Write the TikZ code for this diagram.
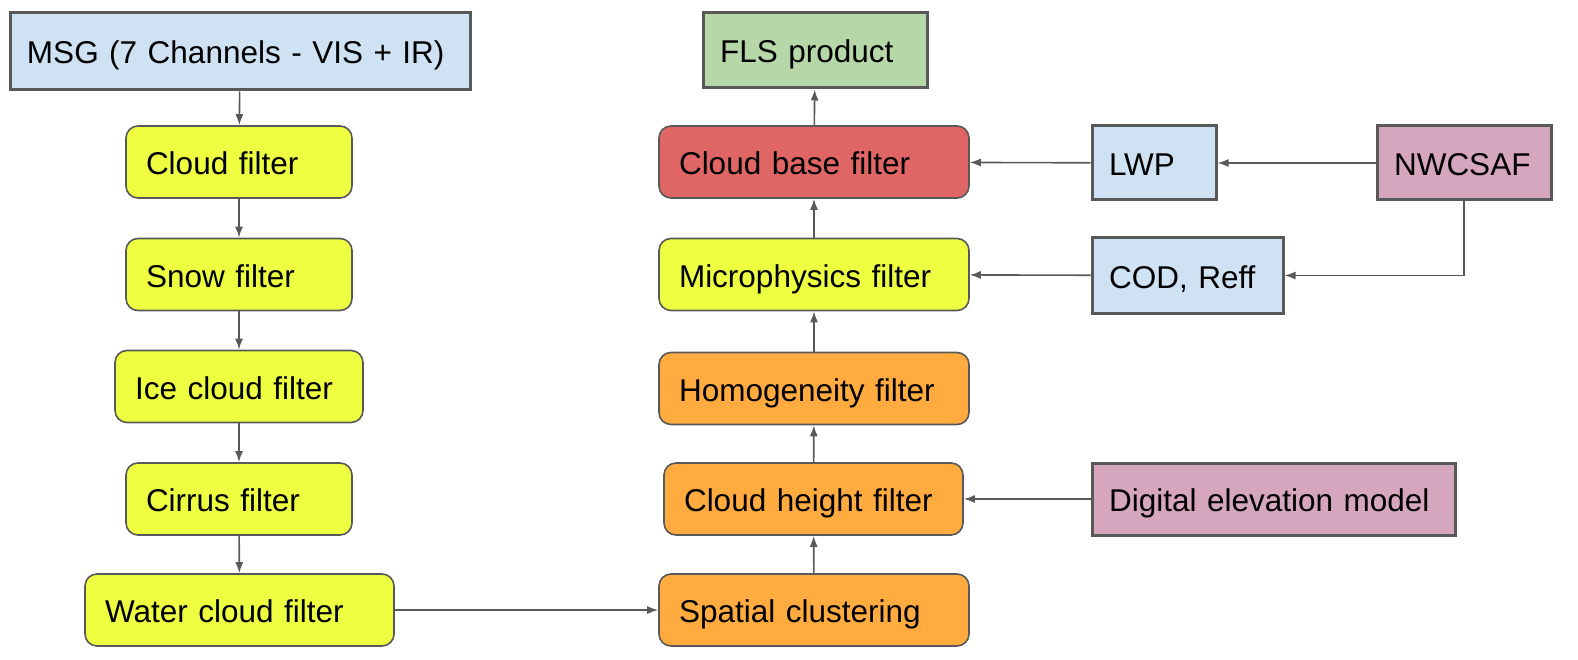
\documentclass[tikz,border=0pt]{standalone}
\usepackage{fontspec}
\setmainfont{Liberation Sans}
\usepackage{tikz}
\usepackage{xcolor}
\usetikzlibrary{arrows.meta}

\definecolor{inblue}{HTML}{CFE2F3}
\definecolor{filtyellow}{HTML}{EEFF41}
\definecolor{filtorange}{HTML}{FFAB40}
\definecolor{filtred}{HTML}{E06666}
\definecolor{prodgreen}{HTML}{B6D7A8}
\definecolor{srcpink}{HTML}{D5A6BD}
\definecolor{edgegray}{HTML}{595959}

\begin{document}
\begin{tikzpicture}[x=1pt, y=-1pt,
  font=\fontsize{31.5}{36}\selectfont,
  databox/.style={draw=edgegray, line width=3pt, rectangle, inner xsep=17pt, text height=25pt, text depth=0pt, align=left},
  filtbox/.style={draw=edgegray, line width=1.6pt, rectangle, rounded corners=12pt, inner xsep=20pt, text height=25pt, text depth=0pt, minimum height=72pt, align=left},
  flow/.style={draw=edgegray, line width=1.6pt, -{Latex[length=11pt,width=8pt]}}]
\useasboundingbox (0,0) rectangle (1578,660);

\node[databox, fill=inblue, text width=426pt, minimum height=77pt] (msg) at (240,51.5) {MSG (7 Channels - VIS + IR)};
\node[filtbox, fill=filtyellow, text width=186pt] (cloud) at (239,162) {Cloud filter};
\node[filtbox, fill=filtyellow, text width=186pt] (snow) at (239,274.5) {Snow filter};
\node[filtbox, fill=filtyellow, text width=208pt] (ice) at (239,386.5) {Ice cloud filter};
\node[filtbox, fill=filtyellow, text width=186pt] (cirrus) at (239,499) {Cirrus filter};
\node[filtbox, fill=filtyellow, text width=269pt] (water) at (239.5,610) {Water cloud filter};

\node[databox, fill=prodgreen, text width=190pt, minimum height=75pt] (fls) at (815,50.5) {FLS product};
\node[filtbox, fill=filtred, text width=270pt] (base) at (814,162) {Cloud base filter};
\node[filtbox, fill=filtyellow, text width=270pt] (micro) at (814,274.5) {Microphysics filter};
\node[filtbox, fill=filtorange, text width=270pt] (homog) at (814,388.5) {Homogeneity filter};
\node[filtbox, fill=filtorange, text width=259pt] (height) at (813.5,499) {Cloud height filter};
\node[filtbox, fill=filtorange, text width=270pt] (spatial) at (814,610) {Spatial clustering};

\node[databox, fill=inblue, text width=90pt, minimum height=74pt] (lwp) at (1154,163) {LWP};
\node[databox, fill=srcpink, text width=140pt, minimum height=74pt] (nwc) at (1464,163) {NWCSAF};
\node[databox, fill=inblue, text width=157pt, minimum height=75pt] (cod) at (1187.5,275.5) {COD, Reff};
\node[databox, fill=srcpink, text width=329pt, minimum height=72pt] (dem) at (1273.5,499) {Digital elevation model};

\draw[flow] (msg) -- (cloud);
\draw[flow] (cloud) -- (snow);
\draw[flow] (snow) -- (ice);
\draw[flow] (ice) -- (cirrus);
\draw[flow] (cirrus) -- (water);
\draw[flow] (water) -- (spatial);

\draw[flow] (spatial) -- (height);
\draw[flow] (height) -- (homog);
\draw[flow] (homog) -- (micro);
\draw[flow] (micro) -- (base);
\draw[flow] (base) -- (fls);

\draw[flow] (nwc) -- (lwp);
\draw[flow] (lwp) -- (base);
\draw[flow] (nwc.south) |- (cod.east);
\draw[flow] (cod) -- (micro);
\draw[flow] (dem) -- (height);
\end{tikzpicture}
\end{document}
